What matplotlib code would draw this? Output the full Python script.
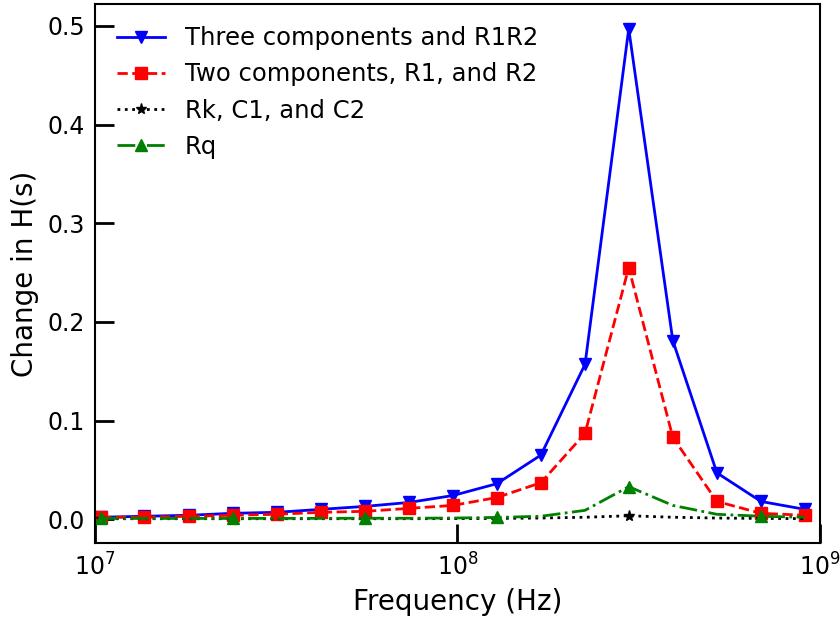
import matplotlib
matplotlib.use("Agg")
import matplotlib.pyplot as plt

# frequencies (Hz)
freq = [1.04e7, 1.37e7, 1.82e7, 2.40e7, 3.18e7, 4.20e7, 5.56e7, 7.35e7, 9.72e7,
        1.285e8, 1.70e8, 2.25e8, 2.97e8, 3.93e8, 5.20e8, 6.88e8, 9.09e8]

three_r1r2 = [0.002, 0.003, 0.004, 0.006, 0.007, 0.010, 0.013, 0.017, 0.024,
              0.036, 0.065, 0.157, 0.497, 0.181, 0.047, 0.018, 0.010]
two_r1_r2 = [0.002, 0.002, 0.003, 0.004, 0.005, 0.007, 0.008, 0.011, 0.014,
             0.022, 0.037, 0.087, 0.255, 0.083, 0.018, 0.006, 0.004]
rk_c1_c2 = [0.0005, 0.0005, 0.0005, 0.0005, 0.0005, 0.0005, 0.0005, 0.0005, 0.0006,
            0.0008, 0.0012, 0.002, 0.0035, 0.002, 0.0012, 0.0008, 0.0006]
rq = [0.0008, 0.0008, 0.0008, 0.0008, 0.0009, 0.0009, 0.001, 0.001, 0.0012,
      0.0018, 0.003, 0.009, 0.033, 0.014, 0.005, 0.003, 0.002]

labels = ["Three components and R1R2", "Two components, R1, and R2",
          "Rk, C1, and C2", "Rq"]

fig = plt.figure(figsize=(8.4, 6.18), dpi=100)
ax = fig.add_axes([0.113, 0.121, 0.863, 0.872])

ax.plot(freq, three_r1r2, "b-", marker="v", ms=9, lw=2, label=labels[0])
ax.plot(freq, two_r1_r2, "r--", marker="s", ms=9, lw=2, label=labels[1])
ax.plot(freq, rk_c1_c2, "k:", marker="*", ms=8, lw=2, markevery=12, label=labels[2])
ax.plot(freq, rq, "g-.", marker="^", ms=9, lw=2, markevery=3, label=labels[3])

ax.set_xscale("log")
ax.set_xlim(1e7, 1e9)
ax.minorticks_off()

ax.set_xlabel("Frequency (Hz)", fontsize=20, labelpad=6)
ax.set_ylabel("Change in H(s)", fontsize=20, labelpad=6)
ax.tick_params(direction="in", length=14, width=2, labelsize=17, pad=7)
for s in ax.spines.values():
    s.set_linewidth(1.5)

ax.legend(loc="upper left", frameon=False, fontsize=17.5)

fig.savefig("out.png")
